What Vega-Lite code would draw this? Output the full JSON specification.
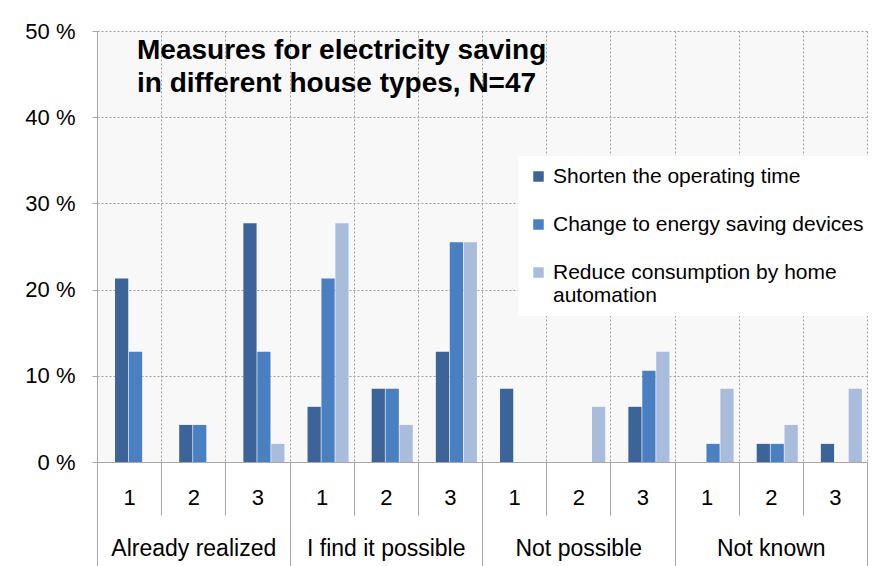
{
  "$schema": "https://vega.github.io/schema/vega-lite/v6.json",
  "autosize": {"type": "none"},
  "padding": {"left": 97, "top": 31, "right": 9, "bottom": 104},
  "width": 770,
  "height": 431,
  "background": "white",
  "config": {
    "font": "Liberation Sans",
    "view": {"fill": "#f8f8f8", "stroke": null}
  },
  "title": {
    "text": ["Measures for electricity saving", "in different house types, N=47"],
    "fontSize": 28,
    "fontWeight": "bold",
    "font": "Liberation Sans",
    "color": "black",
    "anchor": "start",
    "frame": "group",
    "orient": "top",
    "baseline": "top",
    "offset": 0,
    "dx": 40,
    "dy": 78,
    "lineHeight": 33
  },
  "datasets": {
    "bars": [
      {"group": "Already realized", "cell": "Already realized 1", "series": "Shorten the operating time", "value": 21.3},
      {"group": "Already realized", "cell": "Already realized 1", "series": "Change to energy saving devices", "value": 12.8},
      {"group": "Already realized", "cell": "Already realized 1", "series": "Reduce consumption by home automation", "value": 0},
      {"group": "Already realized", "cell": "Already realized 2", "series": "Shorten the operating time", "value": 4.3},
      {"group": "Already realized", "cell": "Already realized 2", "series": "Change to energy saving devices", "value": 4.3},
      {"group": "Already realized", "cell": "Already realized 2", "series": "Reduce consumption by home automation", "value": 0},
      {"group": "Already realized", "cell": "Already realized 3", "series": "Shorten the operating time", "value": 27.7},
      {"group": "Already realized", "cell": "Already realized 3", "series": "Change to energy saving devices", "value": 12.8},
      {"group": "Already realized", "cell": "Already realized 3", "series": "Reduce consumption by home automation", "value": 2.1},
      {"group": "I find it possible", "cell": "I find it possible 1", "series": "Shorten the operating time", "value": 6.4},
      {"group": "I find it possible", "cell": "I find it possible 1", "series": "Change to energy saving devices", "value": 21.3},
      {"group": "I find it possible", "cell": "I find it possible 1", "series": "Reduce consumption by home automation", "value": 27.7},
      {"group": "I find it possible", "cell": "I find it possible 2", "series": "Shorten the operating time", "value": 8.5},
      {"group": "I find it possible", "cell": "I find it possible 2", "series": "Change to energy saving devices", "value": 8.5},
      {"group": "I find it possible", "cell": "I find it possible 2", "series": "Reduce consumption by home automation", "value": 4.3},
      {"group": "I find it possible", "cell": "I find it possible 3", "series": "Shorten the operating time", "value": 12.8},
      {"group": "I find it possible", "cell": "I find it possible 3", "series": "Change to energy saving devices", "value": 25.5},
      {"group": "I find it possible", "cell": "I find it possible 3", "series": "Reduce consumption by home automation", "value": 25.5},
      {"group": "Not possible", "cell": "Not possible 1", "series": "Shorten the operating time", "value": 8.5},
      {"group": "Not possible", "cell": "Not possible 1", "series": "Change to energy saving devices", "value": 0},
      {"group": "Not possible", "cell": "Not possible 1", "series": "Reduce consumption by home automation", "value": 0},
      {"group": "Not possible", "cell": "Not possible 2", "series": "Shorten the operating time", "value": 0},
      {"group": "Not possible", "cell": "Not possible 2", "series": "Change to energy saving devices", "value": 0},
      {"group": "Not possible", "cell": "Not possible 2", "series": "Reduce consumption by home automation", "value": 6.4},
      {"group": "Not possible", "cell": "Not possible 3", "series": "Shorten the operating time", "value": 6.4},
      {"group": "Not possible", "cell": "Not possible 3", "series": "Change to energy saving devices", "value": 10.6},
      {"group": "Not possible", "cell": "Not possible 3", "series": "Reduce consumption by home automation", "value": 12.8},
      {"group": "Not known", "cell": "Not known 1", "series": "Shorten the operating time", "value": 0},
      {"group": "Not known", "cell": "Not known 1", "series": "Change to energy saving devices", "value": 2.1},
      {"group": "Not known", "cell": "Not known 1", "series": "Reduce consumption by home automation", "value": 8.5},
      {"group": "Not known", "cell": "Not known 2", "series": "Shorten the operating time", "value": 2.1},
      {"group": "Not known", "cell": "Not known 2", "series": "Change to energy saving devices", "value": 2.1},
      {"group": "Not known", "cell": "Not known 2", "series": "Reduce consumption by home automation", "value": 4.3},
      {"group": "Not known", "cell": "Not known 3", "series": "Shorten the operating time", "value": 2.1},
      {"group": "Not known", "cell": "Not known 3", "series": "Change to energy saving devices", "value": 0},
      {"group": "Not known", "cell": "Not known 3", "series": "Reduce consumption by home automation", "value": 8.5}
    ],
    "groups": [
      {"group": "Already realized"},
      {"group": "I find it possible"},
      {"group": "Not possible"},
      {"group": "Not known"}
    ]
  },
  "layer": [
    {
      "data": {"name": "bars"},
      "mark": {"type": "bar", "stroke": null},
      "encoding": {
        "x": {
          "field": "cell",
          "type": "nominal",
          "sort": null,
          "scale": {"paddingInner": 0, "paddingOuter": 0},
          "axis": {
            "orient": "bottom",
            "title": null,
            "tickBand": "extent",
            "tickSize": 53,
            "tickColor": "#a6a6a6",
            "domainColor": "#a6a6a6",
            "labelAngle": 0,
            "labelFontSize": 22,
            "labelColor": "black",
            "labelBaseline": "middle",
            "labelPadding": -18,
            "labelExpr": "slice(datum.label, -1)",
            "grid": true,
            "gridColor": "#a0a0a0",
            "gridDash": [2, 2],
            "zindex": 0
          }
        },
        "xOffset": {
          "field": "series",
          "type": "nominal",
          "sort": null,
          "scale": {"paddingInner": 0.05, "paddingOuter": 0.83, "align": 0.78}
        },
        "y": {
          "field": "value",
          "type": "quantitative",
          "scale": {"domain": [0, 50], "nice": false},
          "axis": {
            "title": null,
            "values": [0, 10, 20, 30, 40, 50],
            "labelExpr": "datum.value + ' %'",
            "labelFontSize": 22,
            "labelColor": "black",
            "labelPadding": 17,
            "tickSize": 5,
            "tickColor": "#a6a6a6",
            "domainColor": "#a6a6a6",
            "grid": true,
            "gridColor": "#a0a0a0",
            "gridDash": [2, 2]
          }
        },
        "color": {
          "field": "series",
          "type": "nominal",
          "sort": null,
          "scale": {"range": ["#3c6499", "#4a7fc1", "#a9bcdc"]},
          "legend": {
            "title": null,
            "orient": "none",
            "legendX": 421,
            "legendY": 125,
            "padding": 10,
            "fillColor": "white",
            "symbolType": "square",
            "symbolSize": 110,
            "symbolStrokeWidth": 0,
            "labelFontSize": 21,
            "labelColor": "black",
            "labelOffset": 4,
            "labelLimit": 400,
            "rowPadding": 26,
            "labelBaseline": "middle",
            "labelExpr": "datum.label == 'Reduce consumption by home automation' ? ['Reduce consumption by home', 'automation'] : datum.label"
          }
        }
      }
    },
    {
      "data": {"name": "groups"},
      "mark": {"type": "rule", "opacity": 0},
      "encoding": {
        "x": {
          "field": "group",
          "type": "nominal",
          "sort": null,
          "scale": {"paddingInner": 0, "paddingOuter": 0},
          "axis": {
            "orient": "bottom",
            "title": null,
            "tickBand": "extent",
            "tickSize": 104,
            "tickColor": "#a6a6a6",
            "domain": false,
            "labelAngle": 0,
            "labelFontSize": 23,
            "labelColor": "black",
            "labelBaseline": "middle",
            "labelPadding": -18,
            "grid": false
          }
        }
      }
    }
  ],
  "resolve": {"scale": {"x": "independent"}, "axis": {"x": "independent"}}
}
